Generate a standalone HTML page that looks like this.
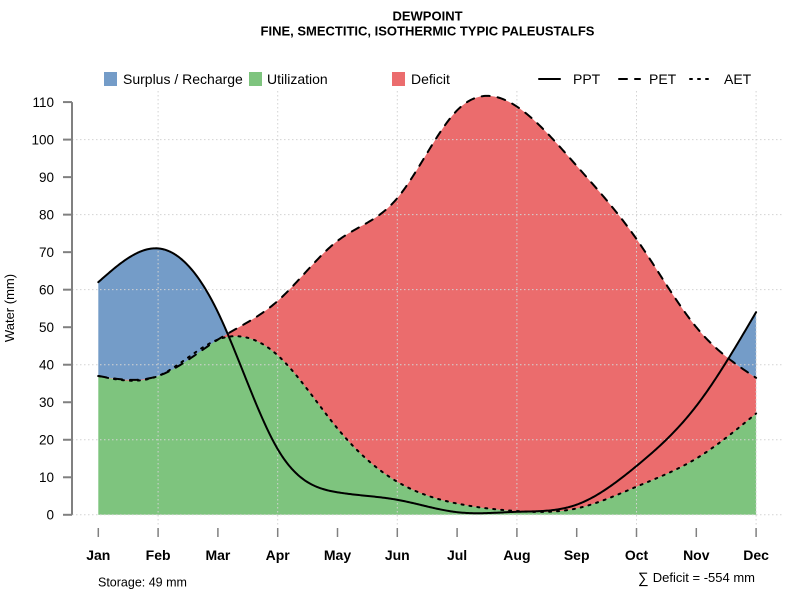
<!DOCTYPE html>
<html><head><meta charset="utf-8">
<style>
html,body{margin:0;padding:0;background:#fff;}
svg{display:block;}
text{font-family:"Liberation Sans",Arial,sans-serif;fill:#000;}
</style></head>
<body>
<svg id="s" width="800" height="600" viewBox="0 0 800 600" xmlns="http://www.w3.org/2000/svg">
<rect width="800" height="600" fill="#fff"/>
<g id="fills"></g>
<g stroke="#d3d3d3" stroke-width="1" stroke-dasharray="1.5 2.5" fill="none">
  <line x1="72" y1="514.8" x2="782" y2="514.8"/>
  <line x1="72" y1="439.76" x2="782" y2="439.76"/>
  <line x1="72" y1="364.72" x2="782" y2="364.72"/>
  <line x1="72" y1="289.68" x2="782" y2="289.68"/>
  <line x1="72" y1="214.64" x2="782" y2="214.64"/>
  <line x1="72" y1="139.6" x2="782" y2="139.6"/>
  <line x1="158.1" y1="91" x2="158.1" y2="527"/>
  <line x1="277.7" y1="91" x2="277.7" y2="527"/>
  <line x1="397.3" y1="91" x2="397.3" y2="527"/>
  <line x1="516.9" y1="91" x2="516.9" y2="527"/>
  <line x1="636.5" y1="91" x2="636.5" y2="527"/>
  <line x1="756.1" y1="91" x2="756.1" y2="527"/>
</g>
<g id="lines" fill="none" stroke="#000" stroke-width="2" stroke-linecap="round" stroke-linejoin="round"></g>

<!-- y axis -->
<g stroke="#808080" stroke-width="2">
  <line x1="72" y1="102.08" x2="72" y2="514.8"/>
  <line x1="63" y1="514.8" x2="72" y2="514.8"/>
  <line x1="63" y1="477.28" x2="72" y2="477.28"/>
  <line x1="63" y1="439.76" x2="72" y2="439.76"/>
  <line x1="63" y1="402.24" x2="72" y2="402.24"/>
  <line x1="63" y1="364.72" x2="72" y2="364.72"/>
  <line x1="63" y1="327.2" x2="72" y2="327.2"/>
  <line x1="63" y1="289.68" x2="72" y2="289.68"/>
  <line x1="63" y1="252.16" x2="72" y2="252.16"/>
  <line x1="63" y1="214.64" x2="72" y2="214.64"/>
  <line x1="63" y1="177.12" x2="72" y2="177.12"/>
  <line x1="63" y1="139.6" x2="72" y2="139.6"/>
  <line x1="63" y1="102.08" x2="72" y2="102.08"/>
</g>
<g font-size="13.5" text-anchor="end">
  <text x="54" y="519.6">0</text>
  <text x="54" y="482.1">10</text>
  <text x="54" y="444.6">20</text>
  <text x="54" y="407.0">30</text>
  <text x="54" y="369.5">40</text>
  <text x="54" y="332.0">50</text>
  <text x="54" y="294.5">60</text>
  <text x="54" y="257.0">70</text>
  <text x="54" y="219.4">80</text>
  <text x="54" y="181.9">90</text>
  <text x="54" y="144.4">100</text>
  <text x="54" y="106.9">110</text>
</g>
<text transform="translate(14,308) rotate(-90)" font-size="13" text-anchor="middle">Water (mm)</text>

<!-- x axis ticks -->
<g stroke="#808080" stroke-width="1.5">
  <line x1="98.3" y1="528" x2="98.3" y2="537"/>
  <line x1="158.1" y1="528" x2="158.1" y2="537"/>
  <line x1="217.9" y1="528" x2="217.9" y2="537"/>
  <line x1="277.7" y1="528" x2="277.7" y2="537"/>
  <line x1="337.5" y1="528" x2="337.5" y2="537"/>
  <line x1="397.3" y1="528" x2="397.3" y2="537"/>
  <line x1="457.1" y1="528" x2="457.1" y2="537"/>
  <line x1="516.9" y1="528" x2="516.9" y2="537"/>
  <line x1="576.7" y1="528" x2="576.7" y2="537"/>
  <line x1="636.5" y1="528" x2="636.5" y2="537"/>
  <line x1="696.3" y1="528" x2="696.3" y2="537"/>
  <line x1="756.1" y1="528" x2="756.1" y2="537"/>
</g>
<g font-size="14" font-weight="bold" text-anchor="middle">
  <text x="98.3" y="560">Jan</text>
  <text x="158.1" y="560">Feb</text>
  <text x="217.9" y="560">Mar</text>
  <text x="277.7" y="560">Apr</text>
  <text x="337.5" y="560">May</text>
  <text x="397.3" y="560">Jun</text>
  <text x="457.1" y="560">Jul</text>
  <text x="516.9" y="560">Aug</text>
  <text x="576.7" y="560">Sep</text>
  <text x="636.5" y="560">Oct</text>
  <text x="696.3" y="560">Nov</text>
  <text x="756.1" y="560">Dec</text>
</g>

<!-- title -->
<g font-size="13" font-weight="bold" text-anchor="middle">
  <text x="427.5" y="20.5">DEWPOINT</text>
  <text x="427.5" y="35.5">FINE, SMECTITIC, ISOTHERMIC TYPIC PALEUSTALFS</text>
</g>

<!-- legend -->
<rect x="104" y="72" width="13" height="14" fill="#749CC8"/>
<text x="123" y="84" font-size="14">Surplus / Recharge</text>
<rect x="249" y="72" width="13" height="14" fill="#7EC47E"/>
<text x="267" y="84" font-size="14">Utilization</text>
<rect x="392" y="72" width="13" height="14" fill="#EB6C6D"/>
<text x="411" y="84" font-size="14">Deficit</text>
<g stroke="#000" stroke-width="2" stroke-linecap="round">
  <line x1="539" y1="79" x2="560" y2="79"/>
  <line x1="618" y1="79" x2="640" y2="79" stroke-dasharray="8 8" stroke-dashoffset="-1"/>
  <line x1="690" y1="79" x2="712" y2="79" stroke-dasharray="2 6"/>
</g>
<text x="573" y="84" font-size="14">PPT</text>
<text x="649" y="84" font-size="14">PET</text>
<text x="724" y="84" font-size="14">AET</text>

<!-- footer -->
<text x="98" y="586.5" font-size="12.5">Storage: 49 mm</text>
<text x="638" y="583" font-size="15">∑</text>
<text x="755" y="582" font-size="13" text-anchor="end">Deficit = -554 mm</text>
</svg>
<script>
(function(){
function natural(x,y){
  var n=x.length,i;
  var h=[],M=new Array(n).fill(0);
  for(i=0;i<n-1;i++) h.push(x[i+1]-x[i]);
  var a=[],b=[],c=[],r=[];
  for(i=1;i<n-1;i++){
    a.push(h[i-1]); b.push(2*(h[i-1]+h[i])); c.push(h[i]);
    r.push(6*((y[i+1]-y[i])/h[i]-(y[i]-y[i-1])/h[i-1]));
  }
  var m=b.length;
  for(i=1;i<m;i++){
    var w=a[i]/b[i-1];
    b[i]-=w*c[i-1];
    r[i]-=w*r[i-1];
  }
  var sol=new Array(m);
  sol[m-1]=r[m-1]/b[m-1];
  for(i=m-2;i>=0;i--) sol[i]=(r[i]-c[i]*sol[i+1])/b[i];
  for(i=0;i<m;i++) M[i+1]=sol[i];
  return function(u){
    var k=0; while(k<n-2 && u>=x[k+1]) k++;
    var hk=h[k],A=x[k+1]-u,B=u-x[k];
    return M[k]*A*A*A/(6*hk)+M[k+1]*B*B*B/(6*hk)+(y[k]/hk-M[k]*hk/6)*A+(y[k+1]/hk-M[k+1]*hk/6)*B;
  };
}
var mo=[1,2,3,4,5,6,7,8,9,10,11,12];
var PPT=[62,71,54,17.5,6,4,0.7,0.8,2.7,13,29,54];
var PET=[37,37,46.7,57,73,84.4,107.8,108.8,93,73.5,50,36.5];
var AET=[37,37,46.7,42.5,23,8.8,3,1,1.7,7.5,15,27];
var fp=natural(mo,PPT),fe=natural(mo,PET),fa=natural(mo,AET);
function X(u){return 98.3+(u-1)*59.8;}
function Y(v){return 514.8-v*3.752;}
var N=500,pts=[];
for(var j=0;j<=N;j++){
  var u=1+11*j/N;
  pts.push({x:X(u),p:fp(u),e:fe(u),a:fa(u)});
}
function poly(upper,lower){
  var s=[],k;
  for(k=0;k<pts.length;k++) s.push(pts[k].x.toFixed(2)+','+Y(upper(pts[k])).toFixed(2));
  for(k=pts.length-1;k>=0;k--) s.push(pts[k].x.toFixed(2)+','+Y(lower(pts[k])).toFixed(2));
  return s.join(' ');
}
var NS='http://www.w3.org/2000/svg';
var fills=document.getElementById('fills');
function addPoly(p,col){
  var el=document.createElementNS(NS,'polygon');
  el.setAttribute('points',p);el.setAttribute('fill',col);el.setAttribute('stroke','none');
  fills.appendChild(el);
}
addPoly(poly(function(q){return q.a;},function(q){return 0;}),'#7EC47E');
addPoly(poly(function(q){return Math.max(q.e,q.a);},function(q){return q.a;}),'#EB6C6D');
addPoly(poly(function(q){return Math.max(q.p,q.e);},function(q){return q.e;}),'#749CC8');
var lines=document.getElementById('lines');
function addLine(key,dash){
  var s=[];
  for(var k=0;k<pts.length;k++) s.push(pts[k].x.toFixed(2)+','+Y(pts[k][key]).toFixed(2));
  var el=document.createElementNS(NS,'polyline');
  el.setAttribute('points',s.join(' '));
  if(dash) el.setAttribute('stroke-dasharray',dash);
  lines.appendChild(el);
}
addLine('a','2 6');
addLine('e','8 8');
addLine('p',null);
})();
</script>
</body></html>
